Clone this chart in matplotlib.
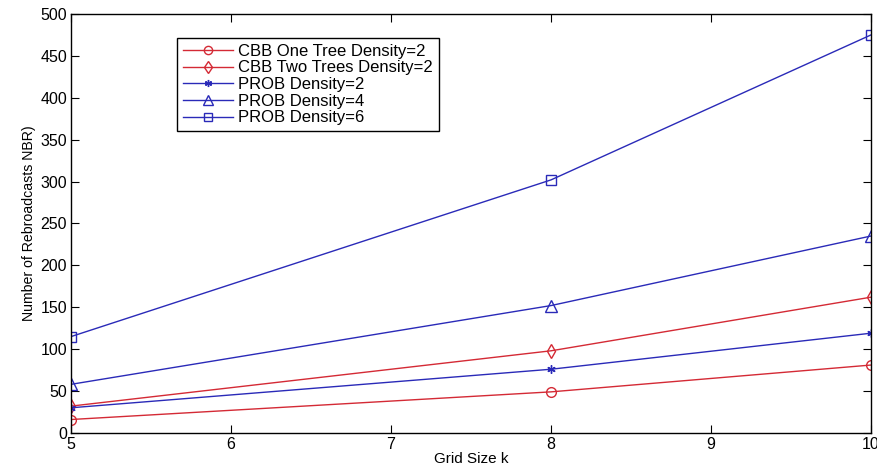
import numpy as np
import matplotlib.pyplot as plt

plt.rcParams['font.family'] = ['Liberation Sans', 'DejaVu Sans']

grid = [5, 8, 10]
cbb_one = [16, 49, 81]
cbb_two = [32, 98, 162]
prob_2 = [30, 76, 119]
prob_4 = [58, 152, 235]
prob_6 = [115, 302, 475]

red = '#d42a35'
blue = '#2a2ab8'

fig = plt.figure(figsize=(8.78, 4.66), dpi=100)
ax = fig.add_axes([0.081, 0.071, 0.911, 0.899])

ax.plot(grid, cbb_one, color=red, lw=1, marker='o', ms=7, mfc='none', label='CBB One Tree Density=2')
ax.plot(grid, cbb_two, color=red, lw=1, marker='d', ms=7, mfc='none', label='CBB Two Trees Density=2')
ax.plot(grid, prob_2, color=blue, lw=1, marker=(6, 2, 0), ms=6, label='PROB Density=2')
ax.plot(grid, prob_4, color=blue, lw=1, marker='^', ms=8, mfc='none', label='PROB Density=4')
ax.plot(grid, prob_6, color=blue, lw=1, marker='s', ms=7, mfc='none', label='PROB Density=6')

ax.set_xlim(5, 10)
ax.set_ylim(0, 500)
ax.set_xticks([5, 6, 7, 8, 9, 10])
ax.set_yticks(np.arange(0, 501, 50))
ax.tick_params(direction='in', top=True, right=True, length=6, labelsize=11.5, pad=3)
for s in ax.spines.values():
    s.set_linewidth(1)

ax.set_xlabel('Grid Size k', fontsize=11, labelpad=0)
ax.set_ylabel('Number of Rebroadcasts NBR)', fontsize=10.2, labelpad=3)

leg = ax.legend(loc='upper left', bbox_to_anchor=(0.1325, 0.943), fontsize=12,
                fancybox=False, edgecolor='black', framealpha=1,
                handlelength=3.0, labelspacing=0.1, borderpad=0.35, handletextpad=0.3,
                borderaxespad=0, markerscale=0.85)
leg.get_frame().set_linewidth(1)

fig.savefig('out.png', dpi=100)
